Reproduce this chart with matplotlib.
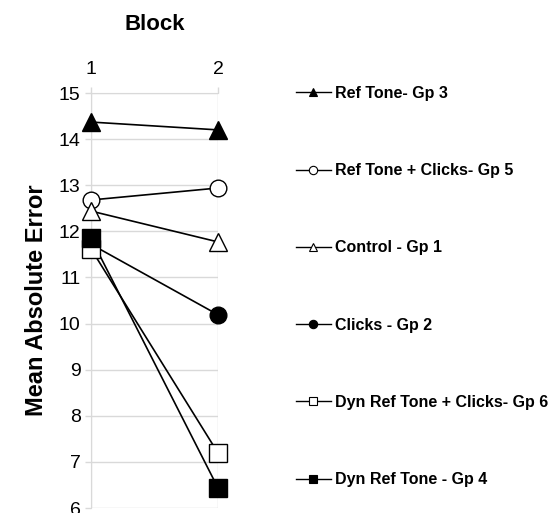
import numpy as np
import matplotlib
matplotlib.use('Agg')
import matplotlib.pyplot as plt

### data
blocks = [1, 2]
labels = ['Ref Tone- Gp 3', 'Ref Tone + Clicks- Gp 5', 'Control - Gp 1',
          'Clicks - Gp 2', 'Dyn Ref Tone + Clicks- Gp 6', 'Dyn Ref Tone - Gp 4']
gp3 = [14.37, 14.20]
gp5 = [12.68, 12.94]
gp1 = [12.44, 11.77]
gp2 = [11.72, 10.19]
gp6 = [11.62, 7.19]
gp4 = [11.85, 6.43]
yticks = [6, 7, 8, 9, 10, 11, 12, 13, 14, 15]

### styles per series
series = [gp3, gp5, gp1, gp2, gp6, gp4]
markers = ['^', 'o', '^', 'o', 's', 's']
filled = [True, False, False, True, False, True]
msizes = [13, 12, 13, 12, 13, 13]

plt.rcParams['font.family'] = ['Liberation Sans', 'DejaVu Sans']
gridcol = '#d9d9d9'

fig = plt.figure(figsize=(5.55, 5.13), dpi=100)
ax = fig.add_axes([0.164, 0.0097, 0.229, 0.809])

handles = []
for vals, mk, fl, ms, lab in zip(series, markers, filled, msizes, labels):
    ax.plot(blocks, vals, color='black', lw=1.2, zorder=3, clip_on=False)
    ax.plot(blocks, vals, linestyle='none', marker=mk, markersize=ms,
            markerfacecolor='black' if fl else 'white', markeredgecolor='black',
            markeredgewidth=1.0, zorder=4, clip_on=False)
    # small markers for legend handles
    h, = ax.plot([], [], color='black', lw=1.0, marker=mk, markersize=6,
                 markerfacecolor='black' if fl else 'white',
                 markeredgecolor='black', markeredgewidth=0.8, label=lab)
    handles.append(h)

ax.set_xlim(1, 2)
ax.set_ylim(6, 15)
ax.set_xticks(blocks)
ax.set_yticks(yticks)
ax.xaxis.tick_top()
ax.xaxis.set_label_position('top')
ax.set_xlabel('Block', fontsize=16, fontweight='bold', labelpad=22)
ax.set_ylabel('Mean Absolute Error', fontsize=17, fontweight='bold', labelpad=8)
ax.tick_params(axis='both', labelsize=14, color=gridcol, length=4, width=1)
ax.tick_params(axis='x', pad=7)
ax.grid(True, color=gridcol, lw=1)
for s in ['right', 'bottom']:
    ax.spines[s].set_visible(False)
for s in ['top', 'left']:
    ax.spines[s].set_color(gridcol)
ax.set_axisbelow(True)

leg = fig.legend(handles=handles, loc='upper left', bbox_to_anchor=(0.521, 0.845),
                 frameon=False, handlelength=2.2, handletextpad=0.3,
                 labelspacing=3.9, borderaxespad=0,
                 prop={'size': 11.5, 'weight': 'bold'})

fig.savefig('out.png', dpi=100)
